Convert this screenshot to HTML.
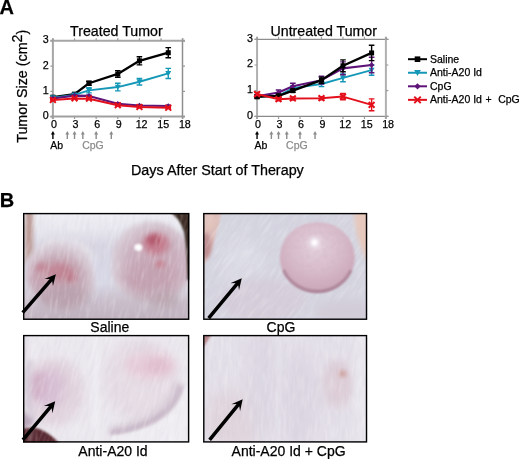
<!DOCTYPE html>
<html><head><meta charset="utf-8"><style>
html,body{margin:0;padding:0;background:#fff;width:520px;height:459px;overflow:hidden}
svg{display:block;font-family:"Liberation Sans", sans-serif;will-change:transform} text{stroke:#000;stroke-width:0.25px} text.g{stroke:#8c8c8c}
</style></head><body>
<svg width="520" height="459" viewBox="0 0 520 459">
<text x="-0.6" y="13.9" font-size="20" font-weight="bold">A</text>
<path d="M52.9 38.35V119.1" stroke="#a6a6a6" stroke-width="2"/>
<path d="M50.4 40.85H185" stroke="#a6a6a6" stroke-width="2"/>
<path d="M50.4 116.6H185" stroke="#a0a0a0" stroke-width="2"/>
<path d="M182.5 38.35V119.1" stroke="#8e8e8e" stroke-width="1.5"/>
<path d="M52.9 116.6v2.5M52.9 40.85v-2.5" stroke="#9a9a9a" stroke-width="1.2"/>
<text x="53.9" y="127.8" font-size="10.7" text-anchor="middle">0</text>
<path d="M74.53 116.6v2.5M74.53 40.85v-2.5" stroke="#9a9a9a" stroke-width="1.2"/>
<text x="75.53" y="127.8" font-size="10.7" text-anchor="middle">3</text>
<path d="M96.16 116.6v2.5M96.16 40.85v-2.5" stroke="#9a9a9a" stroke-width="1.2"/>
<text x="97.16" y="127.8" font-size="10.7" text-anchor="middle">6</text>
<path d="M117.79 116.6v2.5M117.79 40.85v-2.5" stroke="#9a9a9a" stroke-width="1.2"/>
<text x="118.79" y="127.8" font-size="10.7" text-anchor="middle">9</text>
<path d="M139.42 116.6v2.5M139.42 40.85v-2.5" stroke="#9a9a9a" stroke-width="1.2"/>
<text x="141.62" y="127.8" font-size="10.7" text-anchor="middle">12</text>
<path d="M161.05 116.6v2.5M161.05 40.85v-2.5" stroke="#9a9a9a" stroke-width="1.2"/>
<text x="163.25" y="127.8" font-size="10.7" text-anchor="middle">15</text>
<path d="M182.68 116.6v2.5M182.68 40.85v-2.5" stroke="#9a9a9a" stroke-width="1.2"/>
<text x="184.88" y="127.8" font-size="10.7" text-anchor="middle">18</text>
<path d="M50.4 116.6h2.5M182.5 116.6h2.5" stroke="#9a9a9a" stroke-width="1.2"/>
<text x="48.7" y="119" font-size="10.7" text-anchor="end">0</text>
<path d="M50.4 91.35h2.5M182.5 91.35h2.5" stroke="#9a9a9a" stroke-width="1.2"/>
<text x="48.7" y="93.75" font-size="10.7" text-anchor="end">1</text>
<path d="M50.4 66.1h2.5M182.5 66.1h2.5" stroke="#9a9a9a" stroke-width="1.2"/>
<text x="48.7" y="68.5" font-size="10.7" text-anchor="end">2</text>
<path d="M50.4 40.85h2.5M182.5 40.85h2.5" stroke="#9a9a9a" stroke-width="1.2"/>
<text x="48.7" y="43.25" font-size="10.7" text-anchor="end">3</text>
<polyline points="52.9,97.16 74.53,94.13 88.95,83.27 117.79,73.93 139.42,60.8 168.26,52.72" fill="none" stroke="#000000" stroke-width="2.3" stroke-linejoin="round"/>
<path d="M52.9 95.89V98.42M50.1 95.89h5.6M50.1 98.42h5.6" stroke="#000000" stroke-width="1.4"/>
<rect x="50.4" y="94.66" width="5" height="5" fill="#000000"/>
<path d="M74.53 92.86V95.39M71.73 92.86h5.6M71.73 95.39h5.6" stroke="#000000" stroke-width="1.4"/>
<rect x="72.03" y="91.63" width="5" height="5" fill="#000000"/>
<path d="M88.95 81.25V85.29M86.15 81.25h5.6M86.15 85.29h5.6" stroke="#000000" stroke-width="1.4"/>
<rect x="86.45" y="80.77" width="5" height="5" fill="#000000"/>
<path d="M117.79 70.64V77.21M114.99 70.64h5.6M114.99 77.21h5.6" stroke="#000000" stroke-width="1.4"/>
<rect x="115.29" y="71.43" width="5" height="5" fill="#000000"/>
<path d="M139.42 56.76V64.84M136.62 56.76h5.6M136.62 64.84h5.6" stroke="#000000" stroke-width="1.4"/>
<rect x="136.92" y="58.3" width="5" height="5" fill="#000000"/>
<path d="M168.26 47.67V57.77M165.46 47.67h5.6M165.46 57.77h5.6" stroke="#000000" stroke-width="1.4"/>
<rect x="165.76" y="50.22" width="5" height="5" fill="#000000"/>
<polyline points="52.9,97.66 74.53,94.88 88.95,90.34 117.79,87.06 139.42,81.75 168.26,73.42" fill="none" stroke="#1598b8" stroke-width="1.9" stroke-linejoin="round"/>
<path d="M52.9 96.65V98.67M50.1 96.65h5.6M50.1 98.67h5.6" stroke="#1598b8" stroke-width="1.4"/>
<path d="M49.9 95.26H55.9L52.9 100.46Z" fill="#1598b8"/>
<path d="M74.53 93.62V96.15M71.73 93.62h5.6M71.73 96.15h5.6" stroke="#1598b8" stroke-width="1.4"/>
<path d="M71.53 92.48H77.53L74.53 97.68Z" fill="#1598b8"/>
<path d="M88.95 87.81V92.86M86.15 87.81h5.6M86.15 92.86h5.6" stroke="#1598b8" stroke-width="1.4"/>
<path d="M85.95 87.94H91.95L88.95 93.14Z" fill="#1598b8"/>
<path d="M117.79 83.27V90.84M114.99 83.27h5.6M114.99 90.84h5.6" stroke="#1598b8" stroke-width="1.4"/>
<path d="M114.79 84.66H120.79L117.79 89.86Z" fill="#1598b8"/>
<path d="M139.42 78.47V85.04M136.62 78.47h5.6M136.62 85.04h5.6" stroke="#1598b8" stroke-width="1.4"/>
<path d="M136.42 79.35H142.42L139.42 84.55Z" fill="#1598b8"/>
<path d="M168.26 68.37V78.47M165.46 68.37h5.6M165.46 78.47h5.6" stroke="#1598b8" stroke-width="1.4"/>
<path d="M165.26 71.02H171.26L168.26 76.22Z" fill="#1598b8"/>
<polyline points="52.9,98.42 74.53,95.64 88.95,95.89 117.79,103.72 139.42,105.49 168.26,105.99" fill="none" stroke="#5e1478" stroke-width="2.1" stroke-linejoin="round"/>
<path d="M52.9 97.66V99.18M50.1 97.66h5.6M50.1 99.18h5.6" stroke="#5e1478" stroke-width="1.4"/>
<path d="M52.9 95.62L55.7 98.42L52.9 101.22L50.1 98.42Z" fill="#5e1478"/>
<path d="M74.53 94.88V96.4M71.73 94.88h5.6M71.73 96.4h5.6" stroke="#5e1478" stroke-width="1.4"/>
<path d="M74.53 92.84L77.33 95.64L74.53 98.44L71.73 95.64Z" fill="#5e1478"/>
<path d="M88.95 95.14V96.65M86.15 95.14h5.6M86.15 96.65h5.6" stroke="#5e1478" stroke-width="1.4"/>
<path d="M88.95 93.09L91.75 95.89L88.95 98.69L86.15 95.89Z" fill="#5e1478"/>
<path d="M117.79 102.96V104.48M114.99 102.96h5.6M114.99 104.48h5.6" stroke="#5e1478" stroke-width="1.4"/>
<path d="M117.79 100.92L120.59 103.72L117.79 106.52L114.99 103.72Z" fill="#5e1478"/>
<path d="M139.42 104.73V106.25M136.62 104.73h5.6M136.62 106.25h5.6" stroke="#5e1478" stroke-width="1.4"/>
<path d="M139.42 102.69L142.22 105.49L139.42 108.29L136.62 105.49Z" fill="#5e1478"/>
<path d="M168.26 105.24V106.75M165.46 105.24h5.6M165.46 106.75h5.6" stroke="#5e1478" stroke-width="1.4"/>
<path d="M168.26 103.19L171.06 105.99L168.26 108.79L165.46 105.99Z" fill="#5e1478"/>
<polyline points="52.9,99.94 74.53,98.42 88.95,98.67 117.79,105.24 139.42,107 168.26,107.76" fill="none" stroke="#e3101c" stroke-width="2.0" stroke-linejoin="round"/>
<path d="M52.9 99.18V100.69M50.1 99.18h5.6M50.1 100.69h5.6" stroke="#e3101c" stroke-width="1.4"/>
<path d="M50 97.03L55.8 102.84M55.8 97.03L50 102.84" stroke="#e3101c" stroke-width="2" fill="none"/>
<path d="M74.53 97.66V99.18M71.73 97.66h5.6M71.73 99.18h5.6" stroke="#e3101c" stroke-width="1.4"/>
<path d="M71.63 95.52L77.43 101.32M77.43 95.52L71.63 101.32" stroke="#e3101c" stroke-width="2" fill="none"/>
<path d="M88.95 97.91V99.43M86.15 97.91h5.6M86.15 99.43h5.6" stroke="#e3101c" stroke-width="1.4"/>
<path d="M86.05 95.77L91.85 101.57M91.85 95.77L86.05 101.57" stroke="#e3101c" stroke-width="2" fill="none"/>
<path d="M117.79 104.48V105.99M114.99 104.48h5.6M114.99 105.99h5.6" stroke="#e3101c" stroke-width="1.4"/>
<path d="M114.89 102.34L120.69 108.14M120.69 102.34L114.89 108.14" stroke="#e3101c" stroke-width="2" fill="none"/>
<path d="M139.42 106.25V107.76M136.62 106.25h5.6M136.62 107.76h5.6" stroke="#e3101c" stroke-width="1.4"/>
<path d="M136.52 104.1L142.32 109.91M142.32 104.1L136.52 109.91" stroke="#e3101c" stroke-width="2" fill="none"/>
<path d="M168.26 107V108.52M165.46 107h5.6M165.46 108.52h5.6" stroke="#e3101c" stroke-width="1.4"/>
<path d="M165.36 104.86L171.16 110.66M171.16 104.86L165.36 110.66" stroke="#e3101c" stroke-width="2" fill="none"/>
<text x="70.1" y="35.9" font-size="14.2">Treated Tumor</text>
<path d="M52.9 133V139" stroke="#000" stroke-width="1.4"/><path d="M50.9 134.5L52.9 131L54.9 134.5Z" fill="#000"/>
<path d="M67.32 133V139" stroke="#8c8c8c" stroke-width="1.4"/><path d="M65.32 134.5L67.32 131L69.32 134.5Z" fill="#8c8c8c"/>
<path d="M74.53 133V139" stroke="#8c8c8c" stroke-width="1.4"/><path d="M72.53 134.5L74.53 131L76.53 134.5Z" fill="#8c8c8c"/>
<path d="M82.82 133V139" stroke="#8c8c8c" stroke-width="1.4"/><path d="M80.82 134.5L82.82 131L84.82 134.5Z" fill="#8c8c8c"/>
<path d="M96.16 133V139" stroke="#8c8c8c" stroke-width="1.4"/><path d="M94.16 134.5L96.16 131L98.16 134.5Z" fill="#8c8c8c"/>
<path d="M111.3 133V139" stroke="#8c8c8c" stroke-width="1.4"/><path d="M109.3 134.5L111.3 131L113.3 134.5Z" fill="#8c8c8c"/>
<text x="50.3" y="149" font-size="10.5">Ab</text>
<text x="82.14" y="149" font-size="10.5" fill="#8c8c8c" class="g">CpG</text>
<path d="M257.05 36.85V118.9" stroke="#b0b0b0" stroke-width="2"/>
<path d="M254.55 39.35H388.4" stroke="#8e8e8e" stroke-width="1.3"/>
<path d="M254.55 116.4H388.4" stroke="#8a8a8a" stroke-width="1.4"/>
<path d="M385.9 36.85V118.9" stroke="#b0b0b0" stroke-width="2"/>
<path d="M257.05 116.4v2.5M257.05 39.35v-2.5" stroke="#9a9a9a" stroke-width="1.2"/>
<text x="258.05" y="127.8" font-size="10.7" text-anchor="middle">0</text>
<path d="M278.53 116.4v2.5M278.53 39.35v-2.5" stroke="#9a9a9a" stroke-width="1.2"/>
<text x="279.53" y="127.8" font-size="10.7" text-anchor="middle">3</text>
<path d="M300.01 116.4v2.5M300.01 39.35v-2.5" stroke="#9a9a9a" stroke-width="1.2"/>
<text x="301.01" y="127.8" font-size="10.7" text-anchor="middle">6</text>
<path d="M321.49 116.4v2.5M321.49 39.35v-2.5" stroke="#9a9a9a" stroke-width="1.2"/>
<text x="322.49" y="127.8" font-size="10.7" text-anchor="middle">9</text>
<path d="M342.97 116.4v2.5M342.97 39.35v-2.5" stroke="#9a9a9a" stroke-width="1.2"/>
<text x="345.17" y="127.8" font-size="10.7" text-anchor="middle">12</text>
<path d="M364.45 116.4v2.5M364.45 39.35v-2.5" stroke="#9a9a9a" stroke-width="1.2"/>
<text x="366.65" y="127.8" font-size="10.7" text-anchor="middle">15</text>
<path d="M385.93 116.4v2.5M385.93 39.35v-2.5" stroke="#9a9a9a" stroke-width="1.2"/>
<text x="388.13" y="127.8" font-size="10.7" text-anchor="middle">18</text>
<path d="M254.55 116.4h2.5M385.9 116.4h2.5" stroke="#9a9a9a" stroke-width="1.2"/>
<text x="252.85" y="118.8" font-size="10.7" text-anchor="end">0</text>
<path d="M254.55 90.7h2.5M385.9 90.7h2.5" stroke="#9a9a9a" stroke-width="1.2"/>
<text x="252.85" y="93.1" font-size="10.7" text-anchor="end">1</text>
<path d="M254.55 65h2.5M385.9 65h2.5" stroke="#9a9a9a" stroke-width="1.2"/>
<text x="252.85" y="67.4" font-size="10.7" text-anchor="end">2</text>
<path d="M254.55 39.3h2.5M385.9 39.3h2.5" stroke="#9a9a9a" stroke-width="1.2"/>
<text x="252.85" y="41.7" font-size="10.7" text-anchor="end">3</text>
<polyline points="257.05,96.35 278.53,95.84 292.85,88.13 321.49,84.02 342.97,77.85 371.61,70.14" fill="none" stroke="#1598b8" stroke-width="1.9" stroke-linejoin="round"/>
<path d="M257.05 95.07V97.64M254.25 95.07h5.6M254.25 97.64h5.6" stroke="#1598b8" stroke-width="1.4"/>
<path d="M254.05 93.95H260.05L257.05 99.15Z" fill="#1598b8"/>
<path d="M278.53 94.56V97.12M275.73 94.56h5.6M275.73 97.12h5.6" stroke="#1598b8" stroke-width="1.4"/>
<path d="M275.53 93.44H281.53L278.53 98.64Z" fill="#1598b8"/>
<path d="M292.85 86.07V90.19M290.05 86.07h5.6M290.05 90.19h5.6" stroke="#1598b8" stroke-width="1.4"/>
<path d="M289.85 85.73H295.85L292.85 90.93Z" fill="#1598b8"/>
<path d="M321.49 81.45V86.59M318.69 81.45h5.6M318.69 86.59h5.6" stroke="#1598b8" stroke-width="1.4"/>
<path d="M318.49 81.62H324.49L321.49 86.82Z" fill="#1598b8"/>
<path d="M342.97 74V81.71M340.17 74h5.6M340.17 81.71h5.6" stroke="#1598b8" stroke-width="1.4"/>
<path d="M339.97 75.45H345.97L342.97 80.65Z" fill="#1598b8"/>
<path d="M371.61 65V75.28M368.81 65h5.6M368.81 75.28h5.6" stroke="#1598b8" stroke-width="1.4"/>
<path d="M368.61 67.74H374.61L371.61 72.94Z" fill="#1598b8"/>
<polyline points="257.05,96.35 278.53,92.5 292.85,86.33 321.49,80.16 342.97,68.34 371.61,65" fill="none" stroke="#5e1478" stroke-width="2.1" stroke-linejoin="round"/>
<path d="M257.05 95.07V97.64M254.25 95.07h5.6M254.25 97.64h5.6" stroke="#5e1478" stroke-width="1.4"/>
<path d="M257.05 93.55L259.85 96.35L257.05 99.15L254.25 96.35Z" fill="#5e1478"/>
<path d="M278.53 89.93V95.07M275.73 89.93h5.6M275.73 95.07h5.6" stroke="#5e1478" stroke-width="1.4"/>
<path d="M278.53 89.7L281.33 92.5L278.53 95.3L275.73 92.5Z" fill="#5e1478"/>
<path d="M292.85 83.25V89.42M290.05 83.25h5.6M290.05 89.42h5.6" stroke="#5e1478" stroke-width="1.4"/>
<path d="M292.85 83.53L295.65 86.33L292.85 89.13L290.05 86.33Z" fill="#5e1478"/>
<path d="M321.49 76.31V84.02M318.69 76.31h5.6M318.69 84.02h5.6" stroke="#5e1478" stroke-width="1.4"/>
<path d="M321.49 77.36L324.29 80.16L321.49 82.96L318.69 80.16Z" fill="#5e1478"/>
<path d="M342.97 61.92V74.77M340.17 61.92h5.6M340.17 74.77h5.6" stroke="#5e1478" stroke-width="1.4"/>
<path d="M342.97 65.54L345.77 68.34L342.97 71.14L340.17 68.34Z" fill="#5e1478"/>
<path d="M371.61 57.29V72.71M368.81 57.29h5.6M368.81 72.71h5.6" stroke="#5e1478" stroke-width="1.4"/>
<path d="M371.61 62.2L374.41 65L371.61 67.8L368.81 65Z" fill="#5e1478"/>
<polyline points="257.05,96.87 278.53,95.84 292.85,90.7 321.49,80.16 342.97,65.77 371.61,52.92" fill="none" stroke="#000000" stroke-width="2.3" stroke-linejoin="round"/>
<path d="M257.05 95.58V98.15M254.25 95.58h5.6M254.25 98.15h5.6" stroke="#000000" stroke-width="1.4"/>
<rect x="254.55" y="94.37" width="5" height="5" fill="#000000"/>
<path d="M278.53 94.56V97.12M275.73 94.56h5.6M275.73 97.12h5.6" stroke="#000000" stroke-width="1.4"/>
<rect x="276.03" y="93.34" width="5" height="5" fill="#000000"/>
<path d="M292.85 89.16V92.24M290.05 89.16h5.6M290.05 92.24h5.6" stroke="#000000" stroke-width="1.4"/>
<rect x="290.35" y="88.2" width="5" height="5" fill="#000000"/>
<path d="M321.49 77.08V83.25M318.69 77.08h5.6M318.69 83.25h5.6" stroke="#000000" stroke-width="1.4"/>
<rect x="318.99" y="77.66" width="5" height="5" fill="#000000"/>
<path d="M342.97 59.86V71.68M340.17 59.86h5.6M340.17 71.68h5.6" stroke="#000000" stroke-width="1.4"/>
<rect x="340.47" y="63.27" width="5" height="5" fill="#000000"/>
<path d="M371.61 45.21V60.63M368.81 45.21h5.6M368.81 60.63h5.6" stroke="#000000" stroke-width="1.4"/>
<rect x="369.11" y="50.42" width="5" height="5" fill="#000000"/>
<polyline points="257.05,94.04 278.53,99.18 292.85,98.41 321.49,98.15 342.97,96.61 371.61,104.84" fill="none" stroke="#e3101c" stroke-width="2.0" stroke-linejoin="round"/>
<path d="M257.05 92.5V95.58M254.25 92.5h5.6M254.25 95.58h5.6" stroke="#e3101c" stroke-width="1.4"/>
<path d="M254.15 91.14L259.95 96.94M259.95 91.14L254.15 96.94" stroke="#e3101c" stroke-width="2" fill="none"/>
<path d="M278.53 97.64V100.72M275.73 97.64h5.6M275.73 100.72h5.6" stroke="#e3101c" stroke-width="1.4"/>
<path d="M275.63 96.28L281.43 102.08M281.43 96.28L275.63 102.08" stroke="#e3101c" stroke-width="2" fill="none"/>
<path d="M292.85 96.87V99.95M290.05 96.87h5.6M290.05 99.95h5.6" stroke="#e3101c" stroke-width="1.4"/>
<path d="M289.95 95.51L295.75 101.31M295.75 95.51L289.95 101.31" stroke="#e3101c" stroke-width="2" fill="none"/>
<path d="M321.49 96.61V99.7M318.69 96.61h5.6M318.69 99.7h5.6" stroke="#e3101c" stroke-width="1.4"/>
<path d="M318.59 95.25L324.39 101.05M324.39 95.25L318.59 101.05" stroke="#e3101c" stroke-width="2" fill="none"/>
<path d="M342.97 93.53V99.7M340.17 93.53h5.6M340.17 99.7h5.6" stroke="#e3101c" stroke-width="1.4"/>
<path d="M340.07 93.71L345.87 99.51M345.87 93.71L340.07 99.51" stroke="#e3101c" stroke-width="2" fill="none"/>
<path d="M371.61 98.92V110.75M368.81 98.92h5.6M368.81 110.75h5.6" stroke="#e3101c" stroke-width="1.4"/>
<path d="M368.71 101.94L374.51 107.74M374.51 101.94L368.71 107.74" stroke="#e3101c" stroke-width="2" fill="none"/>
<text x="270.5" y="35.9" font-size="14.2">Untreated Tumor</text>
<path d="M257.05 133V139" stroke="#000" stroke-width="1.4"/><path d="M255.05 134.5L257.05 131L259.05 134.5Z" fill="#000"/>
<path d="M271.37 133V139" stroke="#8c8c8c" stroke-width="1.4"/><path d="M269.37 134.5L271.37 131L273.37 134.5Z" fill="#8c8c8c"/>
<path d="M278.53 133V139" stroke="#8c8c8c" stroke-width="1.4"/><path d="M276.53 134.5L278.53 131L280.53 134.5Z" fill="#8c8c8c"/>
<path d="M286.76 133V139" stroke="#8c8c8c" stroke-width="1.4"/><path d="M284.76 134.5L286.76 131L288.76 134.5Z" fill="#8c8c8c"/>
<path d="M300.01 133V139" stroke="#8c8c8c" stroke-width="1.4"/><path d="M298.01 134.5L300.01 131L302.01 134.5Z" fill="#8c8c8c"/>
<path d="M315.05 133V139" stroke="#8c8c8c" stroke-width="1.4"/><path d="M313.05 134.5L315.05 131L317.05 134.5Z" fill="#8c8c8c"/>
<text x="254.45" y="149" font-size="10.5">Ab</text>
<text x="286.09" y="149" font-size="10.5" fill="#8c8c8c" class="g">CpG</text>
<text transform="translate(26.6,142.8) rotate(-90)" font-size="14.3">Tumor Size (cm<tspan dy="-4.6">2</tspan><tspan dy="4.6">)</tspan></text>
<text x="131" y="174.8" font-size="14" textLength="172.8" lengthAdjust="spacingAndGlyphs">Days After Start of Therapy</text>
<path d="M408 59.2H427" stroke="#000000" stroke-width="2"/>
<rect x="414.7" y="56.4" width="5.6" height="5.6" fill="#000000"/>
<text x="430" y="62.8" font-size="10.5">Saline</text>
<path d="M408 72.75H427" stroke="#1598b8" stroke-width="2"/>
<path d="M414.14 70.06H420.86L417.5 75.89Z" fill="#1598b8"/>
<text x="430" y="76.35" font-size="10.5">Anti-A20 Id</text>
<path d="M408 86.3H427" stroke="#5e1478" stroke-width="2"/>
<path d="M417.5 83.16L420.64 86.3L417.5 89.44L414.36 86.3Z" fill="#5e1478"/>
<text x="430" y="89.9" font-size="10.5">CpG</text>
<path d="M408 99.85H427" stroke="#e3101c" stroke-width="2"/>
<path d="M414.25 96.6L420.75 103.1M420.75 96.6L414.25 103.1" stroke="#e3101c" stroke-width="2" fill="none"/>
<text x="430" y="103.45" font-size="10.5">Anti-A20 Id<tspan x="485.6">+</tspan><tspan x="498.2">CpG</tspan></text>
<text x="-0.2" y="206.9" font-size="20" font-weight="bold">B</text>
<defs>
<filter id="b1" x="-50%" y="-50%" width="200%" height="200%"><feGaussianBlur stdDeviation="1"/></filter>
<filter id="b2" x="-50%" y="-50%" width="200%" height="200%"><feGaussianBlur stdDeviation="2"/></filter>
<filter id="b3" x="-50%" y="-50%" width="200%" height="200%"><feGaussianBlur stdDeviation="3"/></filter>
<filter id="b5" x="-50%" y="-50%" width="200%" height="200%"><feGaussianBlur stdDeviation="5"/></filter>
<filter id="b8" x="-50%" y="-50%" width="200%" height="200%"><feGaussianBlur stdDeviation="8"/></filter>
<radialGradient id="sph" cx="0.48" cy="0.35" r="0.68"><stop offset="0" stop-color="#e4d0dc"/><stop offset="0.5" stop-color="#d8bccb"/><stop offset="0.88" stop-color="#cca8b9"/><stop offset="1" stop-color="#b08aa0"/></radialGradient>
<radialGradient id="t1a"><stop offset="0" stop-color="#c8aab8"/><stop offset="0.6" stop-color="#ccb2be"/><stop offset="1" stop-color="#d0bcc8" stop-opacity="0"/></radialGradient>
<radialGradient id="t1b"><stop offset="0" stop-color="#c4a8b6"/><stop offset="0.6" stop-color="#c8b0bc"/><stop offset="1" stop-color="#ccb8c4" stop-opacity="0"/></radialGradient>
<radialGradient id="bulgeL" cx="0.45" cy="0.65" r="0.6"><stop offset="0" stop-color="#bc9eac"/><stop offset="0.55" stop-color="#c6acb8"/><stop offset="0.85" stop-color="#d8ccd6"/><stop offset="1" stop-color="#e4e0e8"/></radialGradient>
<radialGradient id="bulgeR" cx="0.55" cy="0.55" r="0.6"><stop offset="0" stop-color="#c6a6b4"/><stop offset="0.55" stop-color="#cbb0be"/><stop offset="0.85" stop-color="#d6c8d2"/><stop offset="1" stop-color="#e2dee8"/></radialGradient>
<linearGradient id="t1top" x1="0" y1="0" x2="0" y2="1"><stop offset="0" stop-color="#f0f0f5"/><stop offset="0.5" stop-color="#ececf2" stop-opacity="0.8"/><stop offset="1" stop-color="#ececf2" stop-opacity="0"/></linearGradient>
<linearGradient id="t1bot" x1="0" y1="0" x2="0" y2="1"><stop offset="0" stop-color="#bcaab6" stop-opacity="0"/><stop offset="0.45" stop-color="#bcaab6" stop-opacity="0.55"/><stop offset="1" stop-color="#b8a8b4" stop-opacity="0.8"/></linearGradient>
<filter id="furW" x="0" y="0" width="1" height="1"><feTurbulence type="fractalNoise" baseFrequency="0.06 0.35" numOctaves="2" seed="4"/><feColorMatrix type="matrix" values="0 0 0 0 1  0 0 0 0 1  0 0 0 0 1  2.4 0 0 0 -1.05"/></filter>
<filter id="furD" x="0" y="0" width="1" height="1"><feTurbulence type="fractalNoise" baseFrequency="0.06 0.35" numOctaves="2" seed="9"/><feColorMatrix type="matrix" values="0 0 0 0 0.55  0 0 0 0 0.5  0 0 0 0 0.6  2.4 0 0 0 -1.1"/></filter>
<filter id="mott" x="0" y="0" width="1" height="1"><feTurbulence type="fractalNoise" baseFrequency="0.22" numOctaves="2" seed="11"/><feColorMatrix type="matrix" values="0 0 0 0 0.62  0 0 0 0 0.45  0 0 0 0 0.55  2.2 0 0 0 -0.95"/></filter>
<clipPath id="sphc"><ellipse cx="317.3" cy="257.4" rx="37" ry="35"/></clipPath>
<clipPath id="c1"><rect x="23" y="212.9" width="166.3" height="107"/></clipPath>
<clipPath id="c2"><rect x="203.1" y="212.9" width="164.1" height="107"/></clipPath>
<clipPath id="c3"><rect x="23" y="334.9" width="166.3" height="107.7"/></clipPath>
<clipPath id="c4"><rect x="203.1" y="334.9" width="164.1" height="107.7"/></clipPath>
</defs>
<g clip-path="url(#c1)">
<rect x="20" y="210" width="175" height="115" fill="#d8d6e2"/>
<rect x="20" y="210" width="175" height="36" fill="url(#t1top)"/>
<circle cx="62" cy="272" r="36" fill="url(#bulgeL)" filter="url(#b2)"/>
<circle cx="151" cy="262" r="41" fill="url(#bulgeR)" filter="url(#b2)"/>
<path d="M92 250 Q104 270 112 250 Q108 290 102 300 Q96 290 92 250Z" fill="#d8d8e6" filter="url(#b3)"/>
<path d="M25 205 H33 V250 Q29 258 25 262Z" fill="#bc9a94" filter="url(#b2)"/><rect x="16" y="205" width="9" height="60" fill="#cdbcbc" filter="url(#b1)"/>
<ellipse cx="29" cy="306" rx="8" ry="14" fill="#dedce6" filter="url(#b3)"/>
<ellipse cx="150" cy="278" rx="26" ry="16" fill="#c4a2b0" filter="url(#b5)"/>
<ellipse cx="56" cy="274" rx="24" ry="14" fill="#c6a0ae" filter="url(#b5)"/><ellipse cx="60" cy="272" rx="13" ry="8" fill="#c08292" filter="url(#b3)"/>
<ellipse cx="42" cy="268" rx="6" ry="5" fill="#c48a9a" filter="url(#b2)"/>
<ellipse cx="57" cy="270" rx="5" ry="4.5" fill="#c48a9a" filter="url(#b2)"/>
<ellipse cx="71" cy="278" rx="5" ry="4.5" fill="#bc7c8c" filter="url(#b2)"/>
<ellipse cx="156" cy="244" rx="13" ry="11" fill="#c47a8c" filter="url(#b3)"/>
<ellipse cx="154" cy="240" rx="7" ry="5" fill="#b45a6e" filter="url(#b2)"/>
<ellipse cx="160" cy="264" rx="5" ry="3.5" fill="#c88292" filter="url(#b2)"/>
<ellipse cx="138.3" cy="247.5" rx="4" ry="3.4" fill="#ffffff" filter="url(#b1)"/>
<path d="M168 210 Q180 218 184 232 Q187 248 187.5 280 L192 280 L192 210Z" fill="#3a2a22" filter="url(#b1)"/>
<rect x="20" y="284" width="175" height="38" fill="url(#t1bot)"/><ellipse cx="66" cy="298" rx="22" ry="12" fill="#b8a0ac" opacity="0.7" filter="url(#b5)"/><ellipse cx="165" cy="300" rx="14" ry="9" fill="#b49ca4" opacity="0.6" filter="url(#b5)"/>
<g transform="rotate(-80 106.15 266.4)"><rect x="-3.85" y="156.4" width="220" height="220" filter="url(#furW)" opacity="0.22"/><rect x="-3.85" y="156.4" width="220" height="220" filter="url(#furD)" opacity="0.14"/></g></g>
<path d="M55.9 274.3 L52.94 286.28 L52.25 281.19 L24.02 313.84 L21.38 311.56 L49.61 278.9 L44.47 278.96Z" fill="#000"/>
<rect x="23.7" y="213.6" width="164.9" height="105.6" fill="none" stroke="#000" stroke-width="1.4"/>
<g clip-path="url(#c2)">
<rect x="200" y="210" width="170" height="115" fill="#d5d5e0"/>
<ellipse cx="242" cy="262" rx="22" ry="26" fill="#dcdce6" filter="url(#b8)"/>
<ellipse cx="262" cy="300" rx="44" ry="22" fill="#d6ceda" filter="url(#b5)"/>
<path d="M198 208 H223 Q217 228 213 245 Q209 256 204.5 264 L198 264Z" fill="#dcbab6" filter="url(#b1)"/><ellipse cx="206" cy="246" rx="5" ry="13" fill="#bc8a8e" filter="url(#b2)"/><ellipse cx="210" cy="222" rx="8" ry="8" fill="#e2c4bc" filter="url(#b2)"/>
<rect x="199" y="255" width="5" height="40" fill="#d0b4b8" filter="url(#b1)"/>
<g transform="rotate(-55 285.15 266.4)"><rect x="175.15" y="156.4" width="220" height="220" filter="url(#furW)" opacity="0.22"/><rect x="175.15" y="156.4" width="220" height="220" filter="url(#furD)" opacity="0.14"/></g><ellipse cx="317.3" cy="257.4" rx="37.5" ry="35.5" fill="url(#sph)" filter="url(#b1)"/>
<g clip-path="url(#sphc)"><rect x="280" y="221" width="75" height="73" filter="url(#mott)" opacity="0.35"/></g><path d="M283.5 270 A36.5 34.5 0 0 0 351 270" fill="none" stroke="#a47c90" stroke-width="2.6" opacity="0.85" filter="url(#b1)"/><circle cx="314.5" cy="242.5" r="6" fill="#ece4ec" filter="url(#b2)"/><circle cx="314.5" cy="242.5" r="3" fill="#fdfbfd" filter="url(#b1)"/>
<path d="M354 208 H372 V268 Q360 250 356 230 Q354 220 354 208Z" fill="#e6c8bc" filter="url(#b2)"/>
<ellipse cx="345" cy="312" rx="30" ry="12" fill="#d2ccd8" filter="url(#b5)"/>
</g>
<path d="M241.75 278.3 L239.02 290.34 L238.24 285.26 L210 319.22 L207.3 316.98 L235.54 283.02 L230.41 283.18Z" fill="#000"/>
<rect x="203.8" y="213.6" width="162.7" height="105.6" fill="none" stroke="#000" stroke-width="1.4"/>
<g clip-path="url(#c3)">
<rect x="20" y="330" width="175" height="115" fill="#ebe8ee"/>
<ellipse cx="54" cy="392" rx="30" ry="34" fill="#e2d4de" filter="url(#b5)"/>
<ellipse cx="50" cy="388" rx="16" ry="20" fill="#d8c0d4" filter="url(#b5)"/>
<ellipse cx="38" cy="386" rx="8" ry="14" fill="#d2b2c8" filter="url(#b3)"/>
<path d="M30 360 Q24 395 34 422" fill="none" stroke="#d2c8d6" stroke-width="4" filter="url(#b2)"/>
<ellipse cx="140" cy="380" rx="38" ry="42" fill="#e6dde5" filter="url(#b5)"/>
<ellipse cx="150" cy="366" rx="26" ry="14" fill="#e6ccd8" filter="url(#b5)"/>
<ellipse cx="157" cy="366" rx="12" ry="7" fill="#e2c0ce" filter="url(#b3)"/>
<path d="M178 382 Q174 410 140 423 Q124 429 110 431" fill="none" stroke="#d8ccd8" stroke-width="9" filter="url(#b3)"/>
<path d="M181 386 Q174 414 140 426 Q124 431 110 433" fill="none" stroke="#c0acbe" stroke-width="3.5" filter="url(#b2)"/>
<path d="M186 386 Q178 418 142 430 Q126 435 112 436 L112 445 L192 445 L192 386Z" fill="#efedf2" filter="url(#b1)"/>
<rect x="93" y="330" width="5" height="115" fill="#f0eef3" filter="url(#b2)"/>
<rect x="18" y="330" width="7" height="115" fill="#cfc8d4" filter="url(#b2)"/>
<path d="M20 410 Q30 414 34 424 L20 430Z" fill="#b8a4b8" filter="url(#b2)"/>
<path d="M20 430 Q32 425 42 430 Q54 436 60 445 L20 445Z" fill="#5a2a32" filter="url(#b1)"/>
<g transform="rotate(-75 106.15 388.75)"><rect x="-3.85" y="278.75" width="220" height="220" filter="url(#furW)" opacity="0.22"/><rect x="-3.85" y="278.75" width="220" height="220" filter="url(#furD)" opacity="0.14"/></g></g>
<path d="M55.2 401.2 L52.44 413.23 L51.66 408.15 L24.24 440.92 L21.56 438.68 L48.98 405.91 L43.85 406.04Z" fill="#000"/>
<rect x="23.7" y="335.6" width="164.9" height="106.3" fill="none" stroke="#000" stroke-width="1.4"/>
<g clip-path="url(#c4)">
<rect x="200" y="330" width="170" height="115" fill="#e4e0e9"/>
<ellipse cx="234" cy="420" rx="30" ry="30" fill="#e0d4dc" filter="url(#b8)"/>
<ellipse cx="262" cy="380" rx="14" ry="60" fill="#dcd7e2" filter="url(#b8)"/>
<ellipse cx="300" cy="400" rx="20" ry="50" fill="#dcd7e2" filter="url(#b8)"/>
<rect x="277" y="330" width="3" height="115" fill="#e6e3ec" filter="url(#b2)"/>
<path d="M200 330 H214 Q207 342 200 352Z" fill="#b07c80" filter="url(#b1)"/>
<ellipse cx="338" cy="384" rx="15" ry="24" fill="#ddcdd7" filter="url(#b5)"/>
<circle cx="342.7" cy="373.7" r="3.2" fill="#cc9a92" filter="url(#b2)"/>
<rect x="355" y="330" width="16" height="115" fill="#eae8ee" filter="url(#b3)"/>
<g transform="rotate(-88 285.15 388.75)"><rect x="175.15" y="278.75" width="220" height="220" filter="url(#furW)" opacity="0.22"/><rect x="175.15" y="278.75" width="220" height="220" filter="url(#furD)" opacity="0.14"/></g></g>
<path d="M242.7 399.3 L240.08 411.36 L239.25 406.29 L210.96 440.91 L208.24 438.69 L236.54 404.08 L231.4 404.27Z" fill="#000"/>
<rect x="203.8" y="335.6" width="162.7" height="106.3" fill="none" stroke="#000" stroke-width="1.4"/>
<text x="109.8" y="332.4" font-size="14" text-anchor="middle">Saline</text>
<text x="281" y="332.4" font-size="14" text-anchor="middle">CpG</text>
<text x="113" y="455.8" font-size="14" text-anchor="middle">Anti-A20 Id</text>
<text x="288.6" y="455.8" font-size="14" text-anchor="middle">Anti-A20 Id + CpG</text>
</svg>
</body></html>
